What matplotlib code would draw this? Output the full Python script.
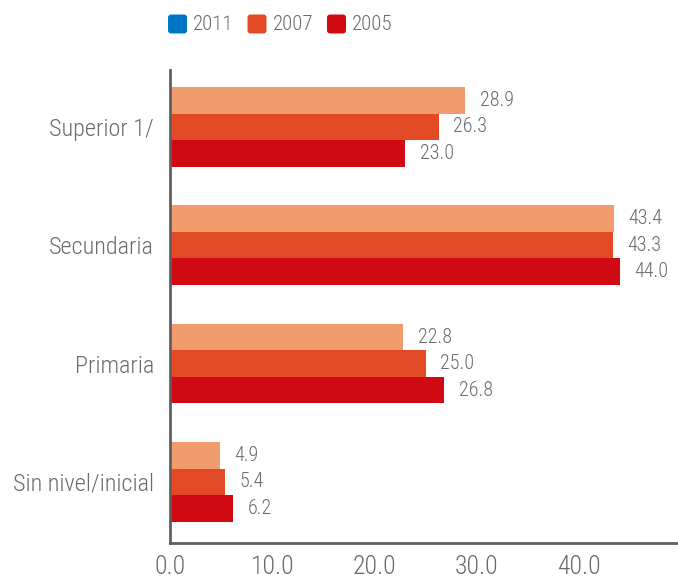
import matplotlib
matplotlib.use("Agg")
import matplotlib.pyplot as plt
from matplotlib.patches import FancyBboxPatch
import numpy as np

categories = ["Sin nivel/inicial", "Primaria", "Secundaria", "Superior 1/"]
values_2011 = [4.9, 22.8, 43.4, 28.9]
values_2007 = [5.4, 25.0, 43.3, 26.3]
values_2005 = [6.2, 26.8, 44.0, 23.0]
legend_labels = ["2011", "2007", "2005"]
xticks = [0, 10, 20, 30, 40]

plt.rcParams["font.family"] = ["Roboto Condensed", "DejaVu Sans"]
plt.rcParams["font.weight"] = "light"

grey = "#6a6a6f"
c_2011_bar = "#F09C6C"
c_2011_leg = "#0075C4"
c_2007 = "#E24A26"
c_2005 = "#D00A12"

W, H = 678, 585
fig = plt.figure(figsize=(W / 100, H / 100), dpi=100)
ax = fig.add_axes([170 / W, 1 - 543 / H, 1 - 170 / W, (543 - 70) / H])

y = np.arange(len(categories))
h = 0.224
series = [(values_2011, c_2011_bar, h), (values_2007, c_2007, 0), (values_2005, c_2005, -h)]
for vals, col, off in series:
    bars = ax.barh(y + off, vals, height=h, color=col, linewidth=0)
    for b, v in zip(bars, vals):
        ax.annotate(f"{v:.1f}", (v, b.get_y() + b.get_height() / 2),
                    xytext=(10.5, 0), textcoords="offset points",
                    va="center", ha="left", fontsize=14.5, color=grey)

ax.set_xlim(0, 49.7)
ax.set_ylim(-0.516, 3.48)
ax.set_yticks(y)
ax.set_yticklabels(categories, fontsize=17.5, color=grey)
ax.set_xticks(xticks)
ax.set_xticklabels([f"{t:.1f}" for t in xticks], fontsize=18.5, color=grey)
ax.tick_params(axis="both", length=0)
ax.tick_params(axis="y", pad=11.5)
ax.tick_params(axis="x", pad=9)
for s in ["top", "right"]:
    ax.spines[s].set_visible(False)
for s in ["left", "bottom"]:
    ax.spines[s].set_color("#5f5f64")
    ax.spines[s].set_linewidth(2)

# legend row: rounded swatches with year labels
leg_colors = [c_2011_leg, c_2007, c_2005]
x0, step, sw, yc = 168, 79.5, 19, 24
for i, (lab, col) in enumerate(zip(legend_labels, leg_colors)):
    left = x0 + i * step
    sq = FancyBboxPatch((left / W, 1 - (yc + sw / 2) / H), sw / W, sw / H,
                        boxstyle=f"round,pad=0,rounding_size={3 / W}",
                        transform=fig.transFigure, facecolor=col, edgecolor="none",
                        mutation_aspect=W / H)
    fig.patches.append(sq)
    fig.text((left + 25) / W, 1 - yc / H, lab, fontsize=15, color=grey,
             ha="left", va="center")

fig.savefig("out.png", dpi=100)
